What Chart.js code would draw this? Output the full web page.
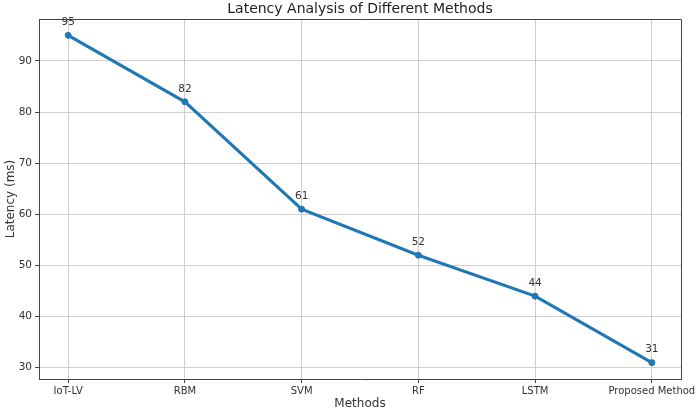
<!DOCTYPE html>
<html>
<head>
<meta charset="utf-8">
<script src="https://cdn.jsdelivr.net/npm/chart.js@4"></script>
<style>
  body { margin: 0; background: #fff; }
</style>
</head>
<body>
<canvas id="myChart" width="700" height="411"></canvas>
<script>
const methods = ["IoT-LV", "RBM", "SVM", "RF", "LSTM", "Proposed Method"];
const latency = [95, 82, 61, 52, 44, 31];
const yTicks = [30, 40, 50, 60, 70, 80, 90];

const FONT = "'DejaVu Sans', sans-serif";
const gridColor = '#cfcfcf';

// title, top/right frame and point labels
const extras = {
    id: 'extras',
    afterDatasetsDraw(chart) {
        const ctx = chart.ctx;
        const area = chart.chartArea;
        ctx.save();
        ctx.strokeStyle = '#444';
        ctx.lineWidth = 1;
        ctx.beginPath();
        ctx.moveTo(area.left, area.top + 0.5);
        ctx.lineTo(area.right + 0.5, area.top + 0.5);
        ctx.lineTo(area.right + 0.5, area.bottom);
        ctx.stroke();

        ctx.fillStyle = '#222';
        ctx.font = '14px ' + FONT;
        ctx.textAlign = 'center';
        ctx.textBaseline = 'middle';
        ctx.fillText('Latency Analysis of Different Methods', (area.left + area.right) / 2, 9);

        ctx.font = '10.5px ' + FONT;
        ctx.fillStyle = '#333';
        chart.getDatasetMeta(0).data.forEach((pt, i) => {
            ctx.fillText(latency[i], pt.x, pt.y - 13);
        });
        ctx.restore();
    }
};

const ctx = document.getElementById('myChart').getContext('2d');

const myChart = new Chart(ctx, {
    type: 'line',
    data: {
        datasets: [{
            label: 'Latency',
            data: methods.map((m, i) => ({ x: i, y: latency[i] })),
            borderColor: '#1f77b4',
            backgroundColor: '#1f77b4',
            borderWidth: 3,
            pointRadius: 3,
            pointBorderWidth: 1,
            pointHoverRadius: 3,
            tension: 0
        }]
    },
    options: {
        responsive: false,
        animation: false,
        devicePixelRatio: 1,
        layout: { padding: { top: 19, right: 19, left: 0, bottom: 0 } },
        plugins: {
            legend: { display: false },
            tooltip: { enabled: false }
        },
        scales: {
            x: {
                type: 'linear',
                min: -0.25,
                max: 5.25,
                afterBuildTicks: s => { s.ticks = methods.map((m, i) => ({ value: i })); },
                afterFit: s => { s.height = 32; s.paddingLeft = 0; s.paddingRight = 0; },
                ticks: {
                    autoSkip: false,
                    maxRotation: 0,
                    padding: 2,
                    color: '#333',
                    font: { family: FONT, size: 10 },
                    callback: v => methods[v]
                },
                grid: { color: gridColor, tickLength: 4, tickColor: '#444' },
                border: { color: '#444', width: 1 },
                title: {
                    display: true,
                    text: 'Methods',
                    color: '#333',
                    font: { family: FONT, size: 12 },
                    padding: { top: 0, bottom: 0 }
                }
            },
            y: {
                min: 27.8,
                max: 98.2,
                afterBuildTicks: s => { s.ticks = yTicks.map(v => ({ value: v })); },
                afterFit: s => { s.width = 39; s.paddingTop = 0; s.paddingBottom = 0; },
                ticks: {
                    padding: 3,
                    color: '#333',
                    font: { family: FONT, size: 10.5 }
                },
                grid: { color: gridColor, tickLength: 4, tickColor: '#444' },
                border: { color: '#444', width: 1 },
                title: {
                    display: true,
                    text: 'Latency (ms)',
                    color: '#333',
                    font: { family: FONT, size: 12 },
                    padding: { top: 4, bottom: 0 }
                }
            }
        }
    },
    plugins: [extras]
});
</script>
</body>
</html>
